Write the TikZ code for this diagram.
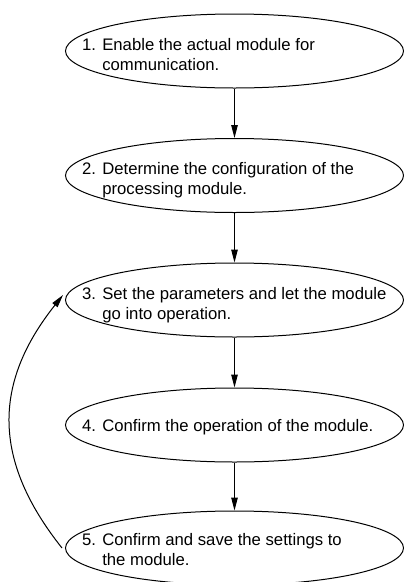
\documentclass[tikz,border=0pt]{standalone}
\usepackage{fontspec}
\setmainfont{Liberation Sans}
\usetikzlibrary{shapes.geometric,arrows.meta}
\tikzset{
  stepbox/.style={draw, ellipse, line width=1pt, minimum width=338pt,
    minimum height=74pt, inner sep=0pt},
  steptext/.style={anchor=base west, align=left, inner sep=0pt,
    font=\fontsize{16.7}{20}\selectfont},
  flow/.style={line width=1pt, -{Triangle[length=13pt,width=6.5pt]}}
}
\begin{document}
\begin{tikzpicture}[x=1pt,y=-1pt]
\useasboundingbox (0,0) rectangle (404,582);

% the five steps
\node[stepbox] (s1) at (234.5,51) {};
\node[stepbox] (s2) at (234.5,175.5) {};
\node[stepbox] (s3) at (234.5,300) {};
\node[stepbox] (s4) at (234.5,425) {};
\node[stepbox] (s5) at (234.5,548) {};

% step labels, first line starts 17pt inside the left edge
% (base anchor of a two-line label sits on its last line)
\node[steptext] (t1) at ([xshift=17pt,yshift=-19pt]s1.west)
  {1. Enable the actual module for\\\hphantom{1. }communication.};
\node[steptext] (t2) at ([xshift=17pt,yshift=-19pt]s2.west)
  {2. Determine the configuration of the\\\hphantom{2. }processing module.};
\node[steptext] (t3) at ([xshift=17pt,yshift=-19pt]s3.west)
  {3. Set the parameters and let the module\\\hphantom{3. }go into operation.};
\node[steptext] (t4) at ([xshift=17pt,yshift=-6pt]s4.west)
  {4. Confirm the operation of the module.};
\node[steptext] (t5) at ([xshift=17pt,yshift=-17pt]s5.west)
  {5. Confirm and save the settings to\\\hphantom{5. }the module.};

% straight flow
\draw[flow] (s1.south) -- (s2.north);
\draw[flow] (s2.south) -- (s3.north);
\draw[flow] (s3.south) -- (s4.north);
\draw[flow] (s4.south) -- (s5.north);

% loop back from saving to parameter setting
\draw[flow] ([xshift=-3pt]s5.west) .. controls +(-70,-88) and +(-70,88) .. ([xshift=-2pt,yshift=5pt]s3.west);
\end{tikzpicture}
\end{document}
